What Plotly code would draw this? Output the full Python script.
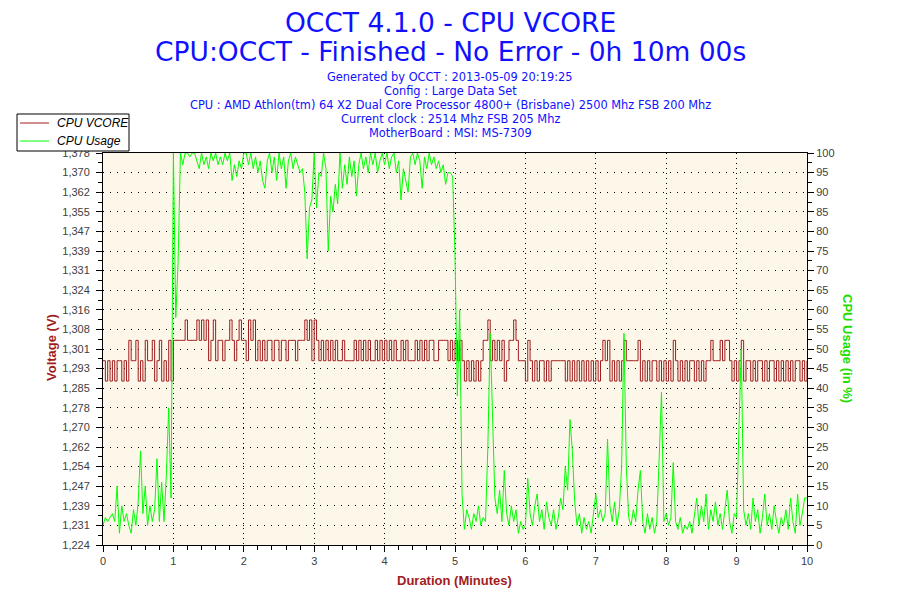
import numpy as np
import plotly.graph_objects as go


# --------------------------------------------------------
# Data (one sample every 2 seconds, 10 minutes)
# --------------------------------------------------------

SAMPLE_SEC = 2

cpu_usage = [
    # minute 0
    5, 7, 6, 7, 8, 6, 15, 3, 10, 6, 8, 5, 3, 9, 5,
    11, 24, 8, 15, 5, 10, 6, 9, 22, 6, 16, 6, 18, 35, 12,
    # minute 1
    100, 58, 72, 100, 97, 100, 100, 99, 100, 100, 98, 96, 100, 97, 99,
    96, 100, 98, 100, 97, 99, 97, 100, 98, 100, 93, 97, 94, 98, 96,
    # minute 2
    100, 100, 97, 100, 96, 99, 95, 98, 93, 91, 98, 100, 95, 99, 93,
    100, 96, 99, 91, 98, 100, 96, 99, 97, 95, 96, 90, 73, 86, 88,
    # minute 3
    100, 86, 95, 94, 100, 96, 75, 89, 85, 92, 87, 100, 91, 97, 92,
    99, 94, 98, 89, 97, 100, 96, 99, 95, 100, 97, 100, 95, 98, 100,
    # minute 4
    97, 100, 96, 99, 100, 95, 98, 88, 96, 93, 90, 99, 100, 97, 100,
    98, 91, 99, 96, 100, 97, 99, 96, 98, 95, 97, 92, 95, 95, 94,
    # minute 5
    74, 38, 60, 13, 4, 9, 7, 4, 8, 6, 10, 5, 7, 6, 25,
    54, 33, 12, 8, 14, 6, 19, 8, 5, 10, 6, 9, 3, 6, 4,
    # minute 6
    5, 17, 8, 5, 10, 13, 6, 9, 4, 11, 7, 5, 9, 4, 7,
    12, 9, 20, 14, 32, 24, 11, 5, 8, 3, 7, 4, 6, 3, 8,
    # minute 7
    13, 7, 9, 6, 8, 27, 10, 6, 11, 5, 9, 20, 54, 20, 7,
    5, 9, 6, 14, 19, 6, 3, 8, 4, 7, 3, 6, 22, 39, 6,
    # minute 8
    8, 5, 7, 21, 6, 4, 7, 3, 5, 4, 6, 3, 8, 12, 5,
    10, 6, 13, 4, 9, 6, 11, 5, 8, 4, 9, 14, 6, 3, 8,
    # minute 9
    7, 30, 50, 9, 5, 8, 4, 12, 6, 9, 3, 7, 13, 5, 8,
    4, 10, 6, 3, 7, 5, 9, 4, 12, 6, 3, 13, 5, 8, 12,
    12,
]

vcore = [
    # minute 0
    1.296, 1.288, 1.296, 1.288, 1.296, 1.288, 1.296, 1.296, 1.288, 1.296,
    1.288, 1.304, 1.296, 1.296, 1.304, 1.288, 1.296, 1.288, 1.304, 1.296,
    1.296, 1.304, 1.288, 1.296, 1.304, 1.288, 1.296, 1.288, 1.304, 1.288,
    # minute 1
    1.304, 1.304, 1.304, 1.304, 1.304, 1.312, 1.304, 1.304, 1.304, 1.304,
    1.312, 1.304, 1.312, 1.304, 1.312, 1.296, 1.304, 1.312, 1.296, 1.304,
    1.304, 1.296, 1.304, 1.304, 1.312, 1.304, 1.296, 1.304, 1.312, 1.304,
    # minute 2
    1.304, 1.296, 1.312, 1.304, 1.312, 1.296, 1.304, 1.296, 1.304, 1.296,
    1.304, 1.304, 1.296, 1.304, 1.304, 1.296, 1.304, 1.304, 1.296, 1.304,
    1.304, 1.304, 1.296, 1.304, 1.304, 1.304, 1.312, 1.304, 1.312, 1.296,
    # minute 3
    1.312, 1.304, 1.296, 1.304, 1.296, 1.304, 1.296, 1.304, 1.296, 1.304,
    1.296, 1.296, 1.304, 1.296, 1.296, 1.296, 1.296, 1.304, 1.296, 1.304,
    1.296, 1.304, 1.296, 1.304, 1.296, 1.296, 1.304, 1.296, 1.304, 1.296,
    # minute 4
    1.304, 1.296, 1.304, 1.296, 1.304, 1.296, 1.296, 1.304, 1.296, 1.304,
    1.296, 1.296, 1.296, 1.304, 1.296, 1.304, 1.296, 1.304, 1.296, 1.304,
    1.304, 1.296, 1.296, 1.304, 1.304, 1.304, 1.304, 1.296, 1.304, 1.296,
    # minute 5
    1.304, 1.296, 1.304, 1.296, 1.288, 1.296, 1.288, 1.296, 1.288, 1.296,
    1.288, 1.296, 1.304, 1.304, 1.312, 1.296, 1.304, 1.296, 1.304, 1.296,
    1.304, 1.288, 1.296, 1.304, 1.304, 1.312, 1.304, 1.296, 1.296, 1.296,
    # minute 6
    1.288, 1.304, 1.296, 1.288, 1.296, 1.288, 1.296, 1.296, 1.288, 1.296,
    1.288, 1.296, 1.296, 1.296, 1.296, 1.296, 1.296, 1.288, 1.296, 1.288,
    1.296, 1.288, 1.296, 1.288, 1.296, 1.288, 1.296, 1.288, 1.296, 1.288,
    # minute 7
    1.296, 1.288, 1.296, 1.304, 1.296, 1.304, 1.288, 1.296, 1.288, 1.296,
    1.288, 1.296, 1.304, 1.296, 1.296, 1.296, 1.296, 1.296, 1.304, 1.288,
    1.296, 1.288, 1.296, 1.288, 1.296, 1.296, 1.288, 1.296, 1.288, 1.296,
    # minute 8
    1.288, 1.296, 1.288, 1.304, 1.296, 1.288, 1.296, 1.288, 1.296, 1.288,
    1.296, 1.296, 1.288, 1.296, 1.288, 1.296, 1.288, 1.296, 1.296, 1.304,
    1.296, 1.296, 1.296, 1.304, 1.296, 1.304, 1.304, 1.296, 1.288, 1.296,
    # minute 9
    1.288, 1.296, 1.304, 1.288, 1.296, 1.296, 1.288, 1.296, 1.288, 1.296,
    1.296, 1.288, 1.296, 1.288, 1.296, 1.296, 1.288, 1.296, 1.288, 1.296,
    1.288, 1.296, 1.288, 1.296, 1.288, 1.296, 1.296, 1.288, 1.296, 1.288,
    1.296,
]

duration = [i * SAMPLE_SEC / 60 for i in range(len(cpu_usage))]

volt_range = [1.2236, 1.3776]
volt_ticks = [
    "1,224", "1,231", "1,239", "1,247", "1,254", "1,262", "1,270",
    "1,278", "1,285", "1,293", "1,301", "1,308", "1,316", "1,324",
    "1,331", "1,339", "1,347", "1,355", "1,362", "1,370", "1,378",
]

series_names = ["CPU VCORE", "CPU Usage"]

title_lines = [
    "OCCT 4.1.0 - CPU VCORE",
    "CPU:OCCT - Finished - No Error - 0h 10m 00s",
]

info_lines = [
    "Generated by OCCT : 2013-05-09 20:19:25",
    "Config : Large Data Set",
    "CPU : AMD Athlon(tm) 64 X2 Dual Core Processor 4800+ (Brisbane) 2500 Mhz FSB 200 Mhz",
    "Current clock : 2514 Mhz FSB 205 Mhz",
    "MotherBoard : MSI: MS-7309",
]


# --------------------------------------------------------
# Style / geometry (page pixels, the page body adds 8px)
# --------------------------------------------------------

RED = "#A01C1C"
GREEN = "#00FF00"
BLUE = "#1010FF"
FONT = "Liberation Sans"
TFONT = "DejaVu Sans"

OFF = 8
W, H = 892, 592
PL, PR, PT, PB = 103, 807, 153, 545      # plot box on the page


def px_x(px):
    return (px - PL) / (PR - PL)


def px_y(px):
    return (PB - px) / (PB - PT)


# --------------------------------------------------------
# Figure
# --------------------------------------------------------

fig = go.Figure()

fig.add_trace(
    go.Scatter(
        x=duration,
        y=vcore,
        mode="lines",
        name=series_names[0],
        line=dict(color=RED, width=1, shape="hv"),
        yaxis="y"
    )
)

fig.add_trace(
    go.Scatter(
        x=duration,
        y=cpu_usage,
        mode="lines",
        name=series_names[1],
        line=dict(color=GREEN, width=1),
        yaxis="y2"
    )
)

vt = np.linspace(volt_range[0], volt_range[1], len(volt_ticks))
vminor = (vt[:-1] + vt[1:]) / 2

tickfont = dict(family=FONT, size=11, color="#404040")

fig.update_layout(
    width=W,
    height=H,
    margin=dict(
        l=PL - OFF,
        r=W - (PR - OFF),
        t=PT - OFF,
        b=H - (PB - OFF)
    ),
    paper_bgcolor="white",
    plot_bgcolor="#FDF7E9",
    showlegend=False,
    xaxis=dict(
        range=[0, 10],
        tickmode="linear",
        tick0=0,
        dtick=1,
        ticks="outside",
        ticklen=6,
        tickcolor="black",
        showline=True,
        linecolor="black",
        linewidth=1,
        mirror=True,
        showgrid=True,
        gridcolor="black",
        gridwidth=1,
        griddash="1px,4px",
        zeroline=False,
        tickfont=tickfont,
        minor=dict(dtick=0.2, ticks="outside", ticklen=4, tickcolor="black",
                   showgrid=False),
    ),
    yaxis=dict(
        range=volt_range,
        tickmode="array",
        tickvals=vt,
        ticktext=volt_ticks,
        ticks="outside",
        ticklen=6,
        tickcolor="black",
        ticklabelstandoff=4,
        showline=True,
        linecolor="black",
        linewidth=1,
        showgrid=True,
        gridcolor="black",
        gridwidth=1,
        griddash="1px,6px",
        zeroline=False,
        tickfont=tickfont,
        minor=dict(tickmode="array", tickvals=vminor, ticks="outside",
                   ticklen=4, tickcolor="black", showgrid=False),
    ),
    yaxis2=dict(
        range=[0, 100],
        overlaying="y",
        side="right",
        tickmode="linear",
        tick0=0,
        dtick=5,
        ticks="outside",
        ticklen=6,
        tickcolor="black",
        showline=True,
        linecolor="black",
        linewidth=1,
        showgrid=False,
        zeroline=False,
        tickfont=tickfont,
        minor=dict(dtick=2.5, ticks="outside", ticklen=4, tickcolor="black",
                   showgrid=False),
    ),
)

# --------------------------------------------------------
# Legend box (drawn by hand, as OCCT does)
# --------------------------------------------------------

fig.add_shape(
    type="rect", xref="paper", yref="paper", layer="above",
    x0=px_x(17), x1=px_x(129), y0=px_y(151), y1=px_y(114),
    fillcolor="white", line=dict(color="black", width=1),
)

for i, (name, col) in enumerate(zip(series_names, [RED, GREEN])):
    row = 123 + 18 * i
    fig.add_shape(
        type="line", xref="paper", yref="paper", layer="above",
        x0=px_x(20), x1=px_x(49), y0=px_y(row), y1=px_y(row),
        line=dict(color=col, width=1),
    )
    fig.add_annotation(
        text=name, xref="paper", yref="paper",
        x=px_x(55), y=px_y(row), xanchor="left", yanchor="middle",
        showarrow=False,
        font=dict(family=FONT, size=12, color="black", style="italic"),
    )

# --------------------------------------------------------
# Titles
# --------------------------------------------------------

for i, txt in enumerate(title_lines):
    fig.add_annotation(
        text=txt, xref="paper", yref="paper",
        x=px_x(450), y=px_y(22 + 29 * i),
        xanchor="center", yanchor="middle", showarrow=False,
        font=dict(family=TFONT, size=26.5, color=BLUE),
    )

for i, txt in enumerate(info_lines):
    fig.add_annotation(
        text=txt, xref="paper", yref="paper",
        x=px_x(450), y=px_y(77 + 14 * i),
        xanchor="center", yanchor="middle", showarrow=False,
        font=dict(family=TFONT, size=11.4, color=BLUE),
    )

# axis titles
fig.add_annotation(
    text="<b>Voltage (V)</b>", xref="paper", yref="paper",
    x=px_x(51), y=px_y(348), xanchor="center", yanchor="middle",
    textangle=-90, showarrow=False,
    font=dict(family=FONT, size=13, color=RED),
)

fig.add_annotation(
    text="<b>CPU Usage (in %)</b>", xref="paper", yref="paper",
    x=px_x(848), y=px_y(348), xanchor="center", yanchor="middle",
    textangle=90, showarrow=False,
    font=dict(family=FONT, size=13, color="#22DD00"),
)

fig.add_annotation(
    text="<b>Duration (Minutes)</b>", xref="paper", yref="paper",
    x=px_x(454), y=px_y(580), xanchor="center", yanchor="middle",
    showarrow=False,
    font=dict(family=FONT, size=13, color=RED),
)

fig.write_html("out.html")
